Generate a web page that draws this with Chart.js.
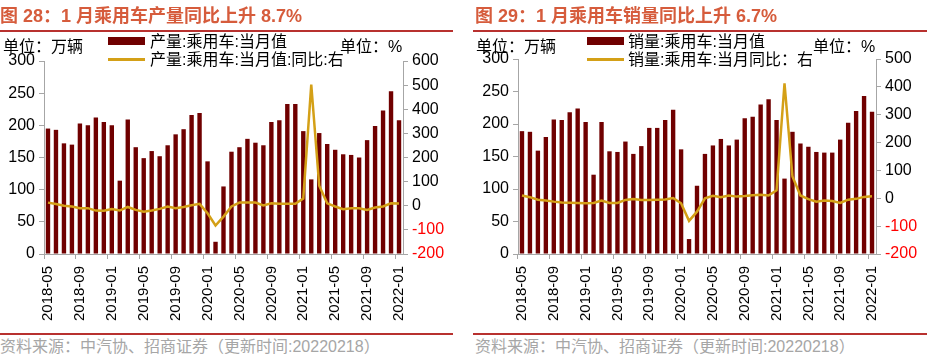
<!DOCTYPE html>
<html lang="zh-CN">
<head>
<meta charset="utf-8">
<title>乘用车产量与销量</title>
<script src="https://cdn.jsdelivr.net/npm/chart.js@4.4.1/dist/chart.umd.min.js"></script>
<style>
    body { margin: 0; width: 927px; height: 361px; background: #fff; position: relative; overflow: hidden;
           font-family: "Liberation Sans", "Noto Sans CJK SC", sans-serif; }
    .panel { position: absolute; top: 0; height: 361px; }
    .panel canvas { position: absolute; left: 0; top: 0; }
    .txt { position: absolute; white-space: nowrap; font-size: 16px; line-height: 18px; color: #000; z-index: 2; }
    .titulo { position: absolute; white-space: nowrap; font-size: 18px; line-height: 20px; font-weight: bold; color: #d65c3c; top: 6px; }
    .regua { position: absolute; height: 2px; background: #b8312f; }
    .fonte { position: absolute; white-space: nowrap; font-size: 16px; line-height: 16px; color: #a6a6a6; top: 339px; }
    .sw { position: absolute; z-index: 2; }
</style>
</head>
<body>

<div class="panel" id="painel1" style="left:0; width:460px;">
    <canvas id="chartProducao" width="460" height="330"></canvas>
    <div class="titulo" style="left:0;">图 28：1 月乘用车产量同比上升 8.7%</div>
    <div class="regua" style="left:0; top:30px; width:453px;"></div>
    <div class="txt" style="left:3px; top:38px;">单位：万辆</div>
    <div class="sw" style="left:108px; top:37px; width:37px; height:8px; background:#700000;"></div>
    <div class="txt" style="left:150px; top:33px;">产量:乘用车:当月值</div>
    <div class="sw" style="left:108px; top:58px; width:37px; height:3px; background:#d4a017;"></div>
    <div class="txt" style="left:150px; top:51px;">产量:乘用车:当月值:同比:右</div>
    <div class="txt" style="left:340px; top:38px;">单位：%</div>
    <div class="regua" style="left:0; top:333px; width:453px;"></div>
    <div class="fonte" style="left:0;">资料来源：中汽协、招商证券（更新时间:20220218）</div>
</div>

<div class="panel" id="painel2" style="left:463px; width:464px;">
    <canvas id="chartVendas" width="464" height="330"></canvas>
    <div class="titulo" style="left:12px;">图 29：1 月乘用车销量同比上升 6.7%</div>
    <div class="regua" style="left:10px; top:30px; width:454px;"></div>
    <div class="txt" style="left:13px; top:38px;">单位：万辆</div>
    <div class="sw" style="left:124px; top:37px; width:37px; height:8px; background:#700000;"></div>
    <div class="txt" style="left:165px; top:33px;">销量:乘用车:当月值</div>
    <div class="sw" style="left:124px; top:58px; width:37px; height:3px; background:#d4a017;"></div>
    <div class="txt" style="left:165px; top:51px;">销量:乘用车:当月同比：右</div>
    <div class="txt" style="left:350px; top:38px;">单位：%</div>
    <div class="regua" style="left:10px; top:333px; width:454px;"></div>
    <div class="fonte" style="left:12px;">资料来源：中汽协、招商证券（更新时间:20220218）</div>
</div>

<script>
// Dados
const meses = [
    '2018-05', '2018-06', '2018-07', '2018-08', '2018-09', '2018-10', '2018-11', '2018-12',
    '2019-01', '2019-02', '2019-03', '2019-04', '2019-05', '2019-06', '2019-07', '2019-08',
    '2019-09', '2019-10', '2019-11', '2019-12', '2020-01', '2020-02', '2020-03', '2020-04',
    '2020-05', '2020-06', '2020-07', '2020-08', '2020-09', '2020-10', '2020-11', '2020-12',
    '2021-01', '2021-02', '2021-03', '2021-04', '2021-05', '2021-06', '2021-07', '2021-08',
    '2021-09', '2021-10', '2021-11', '2021-12', '2022-01'
];

// 产量 (万辆) e 同比 (%)
const producao = [195, 193, 172, 170, 203, 200, 212, 205, 200, 114, 209, 166, 149, 160, 152, 169,
    186, 194, 216, 219, 144, 19, 105, 159, 166, 179, 173, 169, 205, 208, 233, 233,
    191, 116, 188, 171, 162, 155, 154, 150, 177, 199, 223, 253, 208];
const producaoYoY = [13, 7, 0, -3, -10, -10, -20, -21, -14, -20, -5, -17, -25, -20, -13, -3,
    -10, -5, 2, 8, -31, -82, -45, -3, 13, 13, 13, 1, 10, 8, 8, 8,
    30, 502, 83, 10, -3, -14, -10, -10, -17, -7, -3, 10, 9];

// 销量 (万辆) e 同比 (%)
const vendas = [189, 188, 159, 180, 207, 206, 218, 224, 203, 122, 203, 158, 157, 173, 154, 166,
    194, 194, 206, 222, 161, 23, 105, 154, 167, 177, 167, 176, 209, 211, 230, 238,
    206, 116, 188, 170, 165, 157, 156, 156, 176, 202, 220, 243, 219];
const vendasYoY = [10, 4, -5, -8, -12, -15, -16, -17, -18, -17, -8, -17, -17, -6, -3, -6,
    -6, -5, -4, 1, -18, -81, -48, 0, 9, 4, 10, 6, 8, 11, 13, 10,
    29, 413, 78, 10, -3, -12, -8, -10, -17, -5, -2, 5, 7];

// Ticks dos eixos
const ticksEsq = [0, 50, 100, 150, 200, 250, 300];
const ticksDir1 = [-200, -100, 0, 100, 200, 300, 400, 500, 600];
const ticksDir2 = [-200, -100, 0, 100, 200, 300, 400, 500];

const COR_BARRA = '#700000';
const COR_LINHA = '#d4a017';
const COR_EIXO = '#a6a6a6';
const FONTE = '"Liberation Sans", Arial, sans-serif';

let chartProducao = null;
let chartVendas = null;

function criarGrafico(id, barras, linha, ticksDir, area) {
    const ctx = document.getElementById(id).getContext('2d');
    return new Chart(ctx, {
        type: 'bar',
        data: {
            labels: meses,
            datasets: [{
                type: 'line',
                data: linha,
                yAxisID: 'y1',
                borderColor: COR_LINHA,
                borderWidth: 2.5,
                pointRadius: 0,
                tension: 0,
                fill: false,
                order: 0
            }, {
                type: 'bar',
                data: barras,
                yAxisID: 'y',
                backgroundColor: COR_BARRA,
                barPercentage: 0.55,
                categoryPercentage: 1,
                order: 1
            }]
        },
        options: {
            responsive: false,
            animation: false,
            layout: { padding: { top: area.top, left: 0, right: 0, bottom: 0 } },
            plugins: {
                legend: { display: false },
                tooltip: { enabled: false }
            },
            scales: {
                x: {
                    grid: {
                        offset: true,
                        drawOnChartArea: false,
                        tickLength: 5,
                        color: c => (c.index !== undefined && c.index % 4 === 0) ? COR_EIXO : 'rgba(0,0,0,0)'
                    },
                    border: { color: COR_EIXO, width: 1 },
                    ticks: {
                        autoSkip: false,
                        maxRotation: 90,
                        minRotation: 90,
                        padding: 7,
                        color: '#000',
                        font: { size: 15, family: FONTE },
                        callback: function(v, i) { return i % 4 === 0 ? this.getLabelForValue(v) : ''; }
                    },
                    afterFit: s => { s.height = area.xAlt; }
                },
                y: {
                    position: 'left',
                    min: ticksEsq[0],
                    max: ticksEsq[ticksEsq.length - 1],
                    grid: { drawOnChartArea: false, tickLength: 5, color: COR_EIXO },
                    border: { color: COR_EIXO, width: 1 },
                    ticks: {
                        stepSize: ticksEsq[1] - ticksEsq[0],
                        padding: 4,
                        color: '#000',
                        font: { size: 16, family: FONTE }
                    },
                    afterFit: s => { s.width = area.esq; }
                },
                y1: {
                    position: 'right',
                    min: ticksDir[0],
                    max: ticksDir[ticksDir.length - 1],
                    grid: { drawOnChartArea: false, tickLength: 5, color: COR_EIXO },
                    border: { color: COR_EIXO, width: 1 },
                    ticks: {
                        stepSize: ticksDir[1] - ticksDir[0],
                        padding: 4,
                        color: c => c.tick.value < 0 ? '#ff0000' : '#000',
                        font: { size: 16, family: FONTE }
                    },
                    afterFit: s => { s.width = area.dir; }
                }
            }
        }
    });
}

document.addEventListener('DOMContentLoaded', function() {
    chartProducao = criarGrafico('chartProducao', producao, producaoYoY, ticksDir1,
        { top: 61, esq: 44, dir: 57, xAlt: 76 });
    chartVendas = criarGrafico('chartVendas', vendas, vendasYoY, ticksDir2,
        { top: 59, esq: 55, dir: 51, xAlt: 76 });
});
</script>
</body>
</html>
